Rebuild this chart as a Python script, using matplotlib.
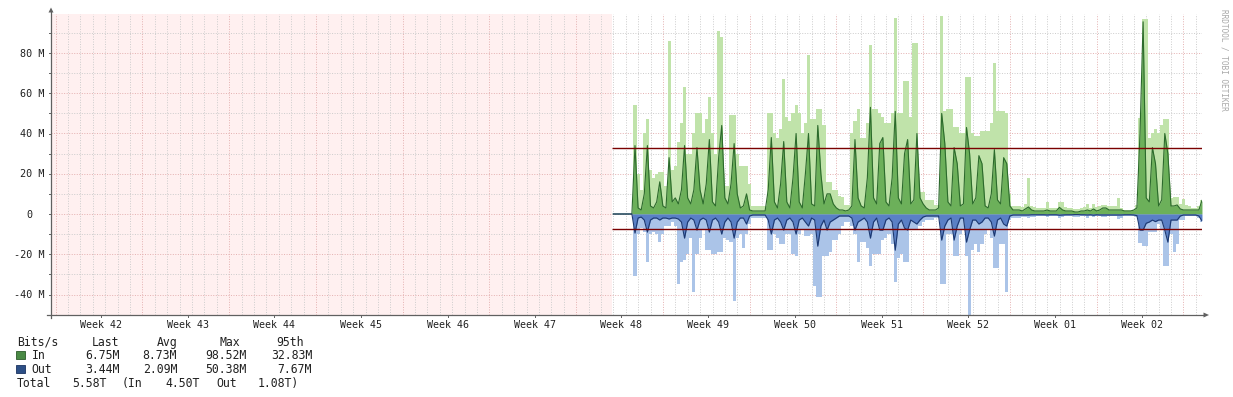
import numpy as np
import matplotlib
matplotlib.use("Agg")
import matplotlib.pyplot as plt
from matplotlib.patches import Polygon, Rectangle

# ---------------- data (Mbit/s), 6-hour samples ----------------
# 7 leading zero samples, then 4 samples per day (46 days)
avg_in = [
    0, 0, 0, 0, 0, 0, 0,
    34, 3, 2, 10,   34, 4, 3, 6,     16, 4, 3, 28,    6, 8, 5, 12,
    34, 8, 5, 12,   33, 12, 5, 15,   37, 6, 4, 28,    44, 8, 5, 15,
    35, 10, 3, 4,   10, 2, 1.5, 1.5, 1.5, 1.5, 1.5, 12, 38, 6, 3, 15,
    36, 6, 3, 18,   40, 6, 3, 20,    40, 5, 4, 44,    20, 5, 10, 10,
    5, 3, 2, 2,     1.5, 2, 4, 37,   8, 4, 3, 18,     53, 8, 5, 35,
    38, 6, 4, 18,   51, 8, 5, 30,    37, 5, 7, 40,    8, 5, 3, 2,
    2, 2, 3, 50,    35, 6, 4, 33,    25, 4, 5, 43,    30, 5, 8, 29,
    25, 4, 3, 10,   32, 7, 5, 28,    25, 4, 2, 2,     2, 1.5, 2.5, 3.5,
    2, 1.5, 1.5, 1.5, 1.5, 2, 1.5, 1.5, 1.5, 3.3, 2, 1.5, 1.5, 1.5, 1, 1,
    1.5, 1.5, 2, 1.5, 2.5, 1.5, 2, 3, 3, 2, 2, 2,     2, 2, 1.5, 1.5,
    1.5, 2, 3, 40,  95.5, 8, 6, 33,  25, 4, 7, 40,    30, 4, 4, 4.5,
    2.5, 2, 2, 2,   2, 2, 2, 6.75,
]
max_in = [
    0, 0, 0, 0, 0, 0, 0,
    54, 20, 12, 40, 47, 22, 18, 20,  21, 21, 14, 86,  22, 24, 36, 45,
    63, 30, 30, 40, 50, 50, 40, 47,  58, 40, 30, 91,  88, 14, 14, 49,
    49, 30, 24, 24, 24, 15, 4, 4,    4, 4, 4, 50,     50, 40, 38, 42,
    67, 48, 46, 50, 54, 50, 40, 45,  79, 47, 47, 52,  52, 44, 16, 16,
    12, 12, 9, 8.6, 4.5, 4.5, 40, 46, 52, 38, 38, 45, 84, 52, 52, 50,
    48, 45, 45, 50, 97.5, 50, 50, 66, 66, 48, 85, 85, 11, 11, 7, 7,
    7, 4.5, 4.5, 98.5, 51, 52, 52, 43, 43, 40, 40, 68, 68, 40, 39, 39,
    41, 41, 41, 45, 75, 51, 51, 51,  50, 10, 4, 4,    4, 3.6, 5, 17.7,
    4, 3.6, 3, 3,   3, 6, 3, 3,      3, 6, 6, 3.5,    3, 3, 2.5, 2.5,
    3, 3.5, 5, 3,   5, 3.5, 4, 4.5,  4.5, 4, 4, 4,    7.8, 3, 2, 2,
    2, 2, 4.5, 47.5, 97, 97, 38, 40, 42, 40, 44, 47,  47, 8, 8.6, 8.6,
    5, 7.7, 4.5, 4, 3, 3, 4, 7,
]
avg_out = [
    0, 0, 0, 0, 0, 0, 0,
    9.5, 2, 1.5, 3, 9, 3, 2, 2,      3, 2, 2, 2.5,    2, 2, 2.5, 4,
    12, 4, 2, 3,    8, 3, 2, 3,      9, 3, 2, 4,      10, 4, 2, 4,
    12, 4, 2, 2,    5, 1, 0.5, 0.5,  0.5, 0.5, 0.5, 3, 10, 3, 2, 4,
    8, 3, 2, 4,     10, 3, 2, 4,     6, 2, 3, 16,     6, 3, 8, 4,
    3, 2, 1, 1,     1, 1, 2, 8,      4, 3, 2, 4,      12, 4, 2, 8,
    8, 3, 2, 4,     18, 5, 3, 7,     8, 3, 4, 5,      3, 1.5, 1, 1,
    1, 1, 1, 13,    6, 3, 2, 13,     6, 2, 2, 14,     8, 3, 3, 5,
    4, 2, 2, 4,     11, 3, 2, 5,     6, 1, 0.5, 0.5,  0.5, 0.5, 0.5, 0.5,
    0.4, 0.4, 0.4, 0.4, 0.4, 0.5, 0.4, 0.4, 0.4, 0.6, 0.5, 0.4, 0.4, 0.4, 0.3, 0.3,
    0.4, 0.4, 0.5, 0.4, 0.6, 0.4, 0.5, 0.5, 0.5, 0.5, 0.5, 0.5, 0.5, 0.5, 0.4, 0.4,
    0.4, 0.5, 0.8, 8, 8, 4.6, 4, 3,  3.8, 3, 3, 8,    14, 3, 3, 3,
    1, 0.5, 0.5, 0.5, 0.5, 0.5, 1, 3.44,
]
max_out = [
    0, 0, 0, 0, 0, 0, 0,
    31, 10, 7, 9,   24, 10, 9, 10,   14, 10, 6, 6,    4, 6, 35, 24,
    23, 20, 12, 39, 20, 12, 8, 18,   18, 20, 20, 19,  19, 12, 13, 14,
    43, 12, 10, 17, 10, 5, 2, 2,     2, 2, 2, 18,     18, 10, 12, 15,
    15, 10, 10, 20, 21, 10, 8, 11,   11, 10, 36, 41,  41, 21, 21, 19,
    13, 13, 10, 6,  4, 4, 6, 10,     24, 14, 14, 17,  26, 20, 20, 20,
    13, 12, 10, 15, 34, 22, 20, 24,  24, 8, 8, 8,     6, 4, 3, 3,
    3, 2, 2, 35,    35, 10, 10, 21,  21, 10, 8, 21,   50.38, 18, 15, 19,
    15, 10, 8, 12,  27, 27, 15, 15,  39, 3, 2, 2,     2, 1.5, 1.5, 2,
    1.5, 1.5, 1, 1, 1, 1.5, 1, 1,    1, 2, 1.5, 1,    1, 1, 1.5, 1.5,
    1, 1, 2, 1,     1.5, 1, 1, 1.5,  1.5, 1, 1, 1,    2.5, 2, 1, 1,
    1, 1, 1.5, 14.6, 16, 16, 9, 9,   9, 5, 8, 26,     26, 10, 18.7, 15,
    3, 3, 1, 1,     1, 1, 2, 4,
]
pct95_in = 32.83
pct95_out = 7.67

week_labels = ["Week 42", "Week 43", "Week 44", "Week 45", "Week 46", "Week 47",
               "Week 48", "Week 49", "Week 50", "Week 51", "Week 52", "Week 01",
               "Week 02"]
y_tick_values = [-40, -20, 0, 20, 40, 60, 80]
y_tick_labels = ["-40 M", "-20 M", "0", "20 M", "40 M", "60 M", "80 M"]

legend_header = ["Bits/s", "Last", "Avg", "Max", "95th"]
legend_in = ["In", "6.75M", "8.73M", "98.52M", "32.83M"]
legend_out = ["Out", "3.44M", "2.09M", "50.38M", "7.67M"]
legend_total = ["Total", "5.58T", "(In", "4.50T", "Out", "1.08T)"]

# ---------------- geometry / styles ----------------
W, H = 1233, 397
PX_DAY = 12.393          # pixels per day
PX_M = 2.0125            # pixels per Mbit
X0, X1 = 51, 1202        # plot area left/right
Y_TOP, Y_BOT, Y_ZERO = 14.5, 315, 214

LIGHT_GREEN = "#c0e3aa"
MID_GREEN = "#6cb05a"
DARK_GREEN = "#2c6a2c"
LIGHT_BLUE = "#abc4e8"
MID_BLUE = "#5a80c6"
DARK_BLUE = "#1c3870"
PINK = "#fff0f0"
MINOR_GRID = "#cccccc"
MAJOR_GRID = "#e4b0b0"
AXIS_COL = "#606060"
TEXT_COL = "#202020"
MONO = "DejaVu Sans Mono"


def dday(px):
    return (px - X0) / PX_DAY


fig = plt.figure(figsize=(W / 100, H / 100), dpi=100)
fig.patch.set_facecolor("white")
ax = fig.add_axes([X0 / W, 1 - Y_BOT / H, (X1 - X0) / W, (Y_BOT - Y_TOP) / H])
ax.set_xlim(0, dday(X1))
ax.set_ylim(-(Y_BOT - Y_ZERO) / PX_M, (Y_ZERO - Y_TOP) / PX_M)
ax.axis("off")

# unknown-data region
ax.axvspan(0, dday(612), color=PINK, lw=0, zorder=0)

# grid
xmax = dday(X1)
k = 0
while 0.38 + k < xmax:
    xv = 0.38 + k
    major = (k % 7 == 0)
    ax.axvline(xv, color=MAJOR_GRID if major else MINOR_GRID, lw=0.7,
               ls=(0, (1, 1.6)), zorder=1)
    k += 1
for yv in range(-40, 100, 10):
    major = (yv % 20 == 0)
    ax.axhline(yv, color=MAJOR_GRID if major else MINOR_GRID, lw=0.7,
               ls=(0, (1, 1.6)), zorder=1)

# data
n = len(avg_in)
t = dday(613.3) + 0.25 * np.arange(n)
ai, mi = np.array(avg_in), np.array(max_in)
ao, mo = -np.array(avg_out), -np.array(max_out)

ax.fill_between(t, 0, mi, step="mid", color=LIGHT_GREEN, lw=0, zorder=2)
ax.fill_between(t, 0, mo, step="mid", color=LIGHT_BLUE, lw=0, zorder=2)
ax.fill_between(t, 0, ai, color=MID_GREEN, lw=0, zorder=3)
ax.fill_between(t, 0, ao, color=MID_BLUE, lw=0, zorder=3)
ax.plot(t, ai, color=DARK_GREEN, lw=0.8, zorder=4)
ax.plot(t, ao, color=DARK_BLUE, lw=0.8, zorder=4)

ax.hlines([pct95_in, -pct95_out], dday(612), dday(X1), color="#7a0000",
          lw=1.0, zorder=6)

# ---------------- overlay in pixel coordinates ----------------
ov = fig.add_axes([0, 0, 1, 1], zorder=5)
ov.set_xlim(0, W)
ov.set_ylim(H, 0)
ov.axis("off")
ov.patch.set_alpha(0)

# axes with arrows
ov.plot([X0, X0], [Y_BOT + 3, 12], color=AXIS_COL, lw=0.9)
ov.add_patch(Polygon([(X0 - 2.5, 12.5), (X0 + 2.5, 12.5), (X0, 7.5)],
                     closed=True, color=AXIS_COL, lw=0))
ov.plot([X0 - 4, 1204], [Y_BOT, Y_BOT], color=AXIS_COL, lw=0.9)
ov.add_patch(Polygon([(1203.5, Y_BOT - 2.5), (1203.5, Y_BOT + 2.5), (1209, Y_BOT)],
                     closed=True, color=AXIS_COL, lw=0))

# y tick marks and labels
for yv in range(-40, 100, 10):
    yp = Y_ZERO - yv * PX_M
    ov.plot([X0 - 2, X0], [yp, yp], color=AXIS_COL, lw=0.7)
for yv, lab in zip(y_tick_values, y_tick_labels):
    yp = Y_ZERO - yv * PX_M
    if lab == "0":
        ov.text(29.5, yp + 3.6, lab, ha="center", va="baseline",
                family=MONO, fontsize=7.3, color=TEXT_COL)
    else:
        ov.text(44.5, yp + 3.6, lab, ha="right", va="baseline",
                family=MONO, fontsize=7.3, color=TEXT_COL)

# x tick marks and labels
for i, lab in enumerate(week_labels):
    xp = X0 + (4.03 + 7 * i) * PX_DAY
    ov.plot([xp, xp], [Y_BOT, Y_BOT + 2], color=AXIS_COL, lw=0.7)
    ov.text(xp, 328.3, lab, ha="center", va="baseline", family=MONO,
            fontsize=7.2, color=TEXT_COL)

# legend
LFS = 8.3
rows_y = [345.8, 359.2, 373.0, 387.0]
ov.text(17, rows_y[0], legend_header[0], ha="left", va="baseline",
        family=MONO, fontsize=LFS, color=TEXT_COL)
for s, xr in zip(legend_header[1:], [119.5, 177, 240, 303.5]):
    ov.text(xr, rows_y[0], s, ha="right", va="baseline", family=MONO,
            fontsize=LFS, color=TEXT_COL)
for row, vals, col, ec in [(1, legend_in, "#4a8a45", "#2c5a2a"),
                           (2, legend_out, "#2d4f86", "#1b3360")]:
    yb = rows_y[row]
    ov.add_patch(Rectangle((16, yb - 8.5), 9, 8.5, facecolor=col,
                           edgecolor=ec, lw=0.6))
    ov.text(31.5, yb, vals[0], ha="left", va="baseline", family=MONO,
            fontsize=LFS, color=TEXT_COL)
    for s, xr in zip(vals[1:], [119.5, 177, 247, 312]):
        ov.text(xr, yb, s, ha="right", va="baseline", family=MONO,
                fontsize=LFS, color=TEXT_COL)
for s, xl in zip(legend_total, [17, 72.5, 122, 165, 216, 258]):
    ov.text(xl, rows_y[3], s, ha="left", va="baseline", family=MONO,
            fontsize=LFS, color=TEXT_COL)

# watermark
ov.text(1224, 60, "RRDTOOL / TOBI OETIKER", rotation=270, ha="center",
        va="center", family=MONO, fontsize=5.6, color="#a8a8a8")

fig.savefig("out.png", dpi=100, facecolor="white")
